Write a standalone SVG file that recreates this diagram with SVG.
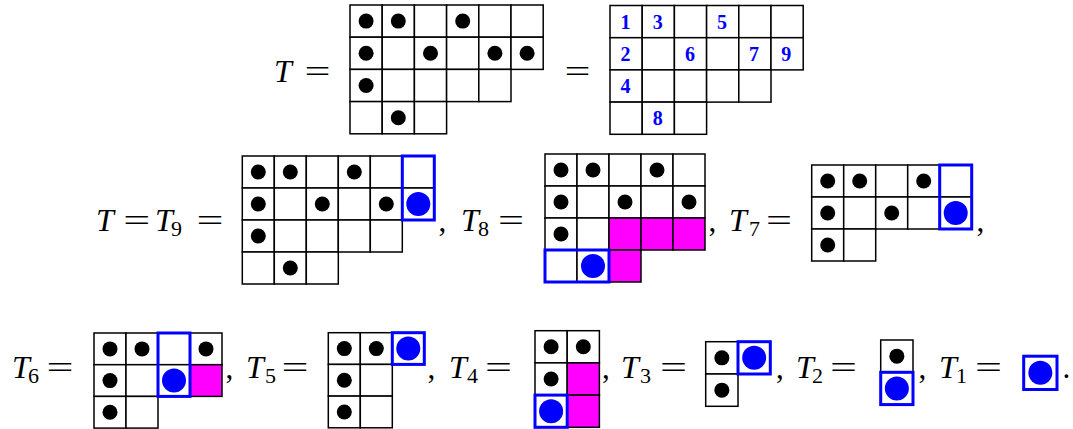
<svg xmlns="http://www.w3.org/2000/svg" width="1073" height="429" viewBox="0 0 1073 429">
<style>
.c{fill:#fff;stroke:#000;stroke-width:1.5}
.m{fill:#f0f;stroke:#000;stroke-width:1.5}
.d{fill:#000}
.bd{fill:#00f}
.bx{fill:none;stroke:#00f;stroke-width:3}
.t{font-family:"Liberation Serif",serif;font-style:italic;font-size:32px;fill:#000}
.s{font-family:"Liberation Serif",serif;font-size:22px;fill:#000}
.e{font-family:"Liberation Serif",serif;font-size:31px;fill:#000}
.n{font-family:"Liberation Serif",serif;font-weight:bold;font-size:20px;fill:#00f;text-anchor:middle}
</style>
<rect width="1073" height="429" fill="#fff"/>
<g id="gridT">
<rect class="c" x="350" y="5" width="32.2" height="32.2"/><rect class="c" x="382.2" y="5" width="32.2" height="32.2"/><rect class="c" x="414.4" y="5" width="32.2" height="32.2"/><rect class="c" x="446.6" y="5" width="32.2" height="32.2"/><rect class="c" x="478.8" y="5" width="32.2" height="32.2"/><rect class="c" x="511" y="5" width="32.2" height="32.2"/>
<rect class="c" x="350" y="37.2" width="32.2" height="32.2"/><rect class="c" x="382.2" y="37.2" width="32.2" height="32.2"/><rect class="c" x="414.4" y="37.2" width="32.2" height="32.2"/><rect class="c" x="446.6" y="37.2" width="32.2" height="32.2"/><rect class="c" x="478.8" y="37.2" width="32.2" height="32.2"/><rect class="c" x="511" y="37.2" width="32.2" height="32.2"/>
<rect class="c" x="350" y="69.4" width="32.2" height="32.2"/><rect class="c" x="382.2" y="69.4" width="32.2" height="32.2"/><rect class="c" x="414.4" y="69.4" width="32.2" height="32.2"/><rect class="c" x="446.6" y="69.4" width="32.2" height="32.2"/><rect class="c" x="478.8" y="69.4" width="32.2" height="32.2"/>
<rect class="c" x="350" y="101.6" width="32.2" height="32.2"/><rect class="c" x="382.2" y="101.6" width="32.2" height="32.2"/><rect class="c" x="414.4" y="101.6" width="32.2" height="32.2"/>
<circle class="d" cx="366.1" cy="21.1" r="7.5"/><circle class="d" cx="398.3" cy="21.1" r="7.5"/><circle class="d" cx="462.7" cy="21.1" r="7.5"/>
<circle class="d" cx="366.1" cy="53.3" r="7.5"/><circle class="d" cx="430.5" cy="53.3" r="7.5"/><circle class="d" cx="494.9" cy="53.3" r="7.5"/><circle class="d" cx="527.1" cy="53.3" r="7.5"/>
<circle class="d" cx="366.1" cy="85.5" r="7.5"/><circle class="d" cx="398.3" cy="117.7" r="7.5"/>
</g>
<g id="gridNum">
<rect class="c" x="610" y="5.5" width="32.2" height="32.2"/><rect class="c" x="642.2" y="5.5" width="32.2" height="32.2"/><rect class="c" x="674.4" y="5.5" width="32.2" height="32.2"/><rect class="c" x="706.6" y="5.5" width="32.2" height="32.2"/><rect class="c" x="738.8" y="5.5" width="32.2" height="32.2"/><rect class="c" x="771" y="5.5" width="32.2" height="32.2"/>
<rect class="c" x="610" y="37.7" width="32.2" height="32.2"/><rect class="c" x="642.2" y="37.7" width="32.2" height="32.2"/><rect class="c" x="674.4" y="37.7" width="32.2" height="32.2"/><rect class="c" x="706.6" y="37.7" width="32.2" height="32.2"/><rect class="c" x="738.8" y="37.7" width="32.2" height="32.2"/><rect class="c" x="771" y="37.7" width="32.2" height="32.2"/>
<rect class="c" x="610" y="69.9" width="32.2" height="32.2"/><rect class="c" x="642.2" y="69.9" width="32.2" height="32.2"/><rect class="c" x="674.4" y="69.9" width="32.2" height="32.2"/><rect class="c" x="706.6" y="69.9" width="32.2" height="32.2"/><rect class="c" x="738.8" y="69.9" width="32.2" height="32.2"/>
<rect class="c" x="610" y="102.1" width="32.2" height="32.2"/><rect class="c" x="642.2" y="102.1" width="32.2" height="32.2"/><rect class="c" x="674.4" y="102.1" width="32.2" height="32.2"/>
<text class="n" x="625.5" y="28.5">1</text><text class="n" x="657.7" y="28.5">3</text><text class="n" x="722" y="28.5">5</text>
<text class="n" x="625.5" y="60.5">2</text><text class="n" x="690" y="60.5">6</text><text class="n" x="754" y="60.5">7</text><text class="n" x="786.3" y="60.5">9</text>
<text class="n" x="625.5" y="92.8">4</text><text class="n" x="657.7" y="125">8</text>
</g>
<g id="T9">
<rect class="c" x="242.3" y="156" width="32" height="32"/><rect class="c" x="274.3" y="156" width="32" height="32"/><rect class="c" x="306.3" y="156" width="32" height="32"/><rect class="c" x="338.3" y="156" width="32" height="32"/><rect class="c" x="370.3" y="156" width="32" height="32"/><rect class="c" x="402.3" y="156" width="32" height="32"/>
<rect class="c" x="242.3" y="188" width="32" height="32"/><rect class="c" x="274.3" y="188" width="32" height="32"/><rect class="c" x="306.3" y="188" width="32" height="32"/><rect class="c" x="338.3" y="188" width="32" height="32"/><rect class="c" x="370.3" y="188" width="32" height="32"/><rect class="c" x="402.3" y="188" width="32" height="32"/>
<rect class="c" x="242.3" y="220" width="32" height="32"/><rect class="c" x="274.3" y="220" width="32" height="32"/><rect class="c" x="306.3" y="220" width="32" height="32"/><rect class="c" x="338.3" y="220" width="32" height="32"/><rect class="c" x="370.3" y="220" width="32" height="32"/>
<rect class="c" x="242.3" y="252" width="32" height="32"/><rect class="c" x="274.3" y="252" width="32" height="32"/><rect class="c" x="306.3" y="252" width="32" height="32"/>
<circle class="d" cx="258.3" cy="172" r="7.5"/><circle class="d" cx="290.3" cy="172" r="7.5"/><circle class="d" cx="354.3" cy="172" r="7.5"/>
<circle class="d" cx="258.3" cy="204" r="7.5"/><circle class="d" cx="322.3" cy="204" r="7.5"/><circle class="d" cx="386.3" cy="204" r="7.5"/>
<circle class="bd" cx="418.3" cy="204" r="12"/>
<circle class="d" cx="258.3" cy="236" r="7.5"/><circle class="d" cx="290.3" cy="268" r="7.5"/>
<rect class="bx" x="402.3" y="156" width="32" height="64"/>
</g>
<g id="T8">
<rect class="c" x="545" y="154" width="32" height="32"/><rect class="c" x="577" y="154" width="32" height="32"/><rect class="c" x="609" y="154" width="32" height="32"/><rect class="c" x="641" y="154" width="32" height="32"/><rect class="c" x="673" y="154" width="32" height="32"/>
<rect class="c" x="545" y="186" width="32" height="32"/><rect class="c" x="577" y="186" width="32" height="32"/><rect class="c" x="609" y="186" width="32" height="32"/><rect class="c" x="641" y="186" width="32" height="32"/><rect class="c" x="673" y="186" width="32" height="32"/>
<rect class="c" x="545" y="218" width="32" height="32"/><rect class="c" x="577" y="218" width="32" height="32"/><rect class="m" x="609" y="218" width="32" height="32"/><rect class="m" x="641" y="218" width="32" height="32"/><rect class="m" x="673" y="218" width="32" height="32"/>
<rect class="c" x="545" y="250" width="32" height="32"/><rect class="c" x="577" y="250" width="32" height="32"/><rect class="m" x="609" y="250" width="32" height="32"/>
<circle class="d" cx="561" cy="170" r="7.5"/><circle class="d" cx="593" cy="170" r="7.5"/><circle class="d" cx="657" cy="170" r="7.5"/>
<circle class="d" cx="561" cy="202" r="7.5"/><circle class="d" cx="625" cy="202" r="7.5"/><circle class="d" cx="689" cy="202" r="7.5"/>
<circle class="d" cx="561" cy="234" r="7.5"/>
<circle class="bd" cx="593" cy="266" r="12"/>
<rect class="bx" x="545" y="250" width="64" height="32"/>
</g>
<g id="T7">
<rect class="c" x="811.7" y="165" width="32" height="32"/><rect class="c" x="843.7" y="165" width="32" height="32"/><rect class="c" x="875.7" y="165" width="32" height="32"/><rect class="c" x="907.7" y="165" width="32" height="32"/><rect class="c" x="939.7" y="165" width="32" height="32"/>
<rect class="c" x="811.7" y="197" width="32" height="32"/><rect class="c" x="843.7" y="197" width="32" height="32"/><rect class="c" x="875.7" y="197" width="32" height="32"/><rect class="c" x="907.7" y="197" width="32" height="32"/><rect class="c" x="939.7" y="197" width="32" height="32"/>
<rect class="c" x="811.7" y="229" width="32" height="32"/><rect class="c" x="843.7" y="229" width="32" height="32"/>
<circle class="d" cx="827.7" cy="181" r="7.5"/><circle class="d" cx="859.7" cy="181" r="7.5"/><circle class="d" cx="923.7" cy="181" r="7.5"/>
<circle class="d" cx="827.7" cy="213" r="7.5"/><circle class="d" cx="891.7" cy="213" r="7.5"/>
<circle class="bd" cx="955.7" cy="213" r="12"/>
<circle class="d" cx="827.7" cy="245" r="7.5"/>
<rect class="bx" x="939.7" y="165" width="32" height="64"/>
</g>
<g id="T6">
<rect class="c" x="94" y="333" width="32" height="31.7"/><rect class="c" x="126" y="333" width="32" height="31.7"/><rect class="c" x="158" y="333" width="32" height="31.7"/><rect class="c" x="190" y="333" width="32" height="31.7"/>
<rect class="c" x="94" y="364.7" width="32" height="31.7"/><rect class="c" x="126" y="364.7" width="32" height="31.7"/><rect class="c" x="158" y="364.7" width="32" height="31.7"/><rect class="m" x="190" y="364.7" width="32" height="31.7"/>
<rect class="c" x="94" y="396.4" width="32" height="31.7"/><rect class="c" x="126" y="396.4" width="32" height="31.7"/>
<circle class="d" cx="110" cy="348.9" r="7.5"/><circle class="d" cx="142" cy="348.9" r="7.5"/><circle class="d" cx="206" cy="348.9" r="7.5"/>
<circle class="d" cx="110" cy="380.6" r="7.5"/>
<circle class="bd" cx="174" cy="380.6" r="12"/>
<circle class="d" cx="110" cy="412.3" r="7.5"/>
<rect class="bx" x="158" y="333" width="32" height="63.4"/>
</g>
<g id="T5">
<rect class="c" x="328.3" y="332.7" width="32" height="31.7"/><rect class="c" x="360.3" y="332.7" width="32" height="31.7"/><rect class="c" x="392.3" y="332.7" width="32" height="31.7"/>
<rect class="c" x="328.3" y="364.4" width="32" height="31.7"/><rect class="c" x="360.3" y="364.4" width="32" height="31.7"/>
<rect class="c" x="328.3" y="396.1" width="32" height="31.7"/><rect class="c" x="360.3" y="396.1" width="32" height="31.7"/>
<circle class="d" cx="344.3" cy="348.6" r="7.5"/><circle class="d" cx="376.3" cy="348.6" r="7.5"/>
<circle class="bd" cx="408.3" cy="348.6" r="12"/>
<circle class="d" cx="344.3" cy="380.3" r="7.5"/><circle class="d" cx="344.3" cy="412" r="7.5"/>
<rect class="bx" x="392.3" y="332.7" width="32" height="31.7"/>
</g>
<g id="T4">
<rect class="c" x="535" y="330.7" width="32.2" height="32.2"/><rect class="c" x="567.2" y="330.7" width="32.2" height="32.2"/>
<rect class="c" x="535" y="362.9" width="32.2" height="32.2"/><rect class="m" x="567.2" y="362.9" width="32.2" height="32.2"/>
<rect class="c" x="535" y="395.1" width="32.2" height="32.2"/><rect class="m" x="567.2" y="395.1" width="32.2" height="32.2"/>
<circle class="d" cx="551.1" cy="346.8" r="7.5"/><circle class="d" cx="583.3" cy="346.8" r="7.5"/>
<circle class="d" cx="551.1" cy="379" r="7.5"/>
<circle class="bd" cx="551.1" cy="411.2" r="12"/>
<rect class="bx" x="535" y="395.1" width="32.2" height="32.2"/>
</g>
<g id="T3">
<rect class="c" x="705.7" y="341.7" width="32.3" height="32.3"/><rect class="c" x="738" y="341.7" width="32.3" height="32.3"/>
<rect class="c" x="705.7" y="374" width="32.3" height="32.3"/>
<circle class="d" cx="721.85" cy="357.85" r="7.5"/>
<circle class="bd" cx="754.15" cy="357.85" r="12"/>
<circle class="d" cx="721.85" cy="390.15" r="7.5"/>
<rect class="bx" x="738" y="341.7" width="32.3" height="32.3"/>
</g>
<g id="T2">
<rect class="c" x="880.7" y="340" width="32.3" height="32.3"/>
<rect class="c" x="880.7" y="372.3" width="32.3" height="32.3"/>
<circle class="d" cx="896.85" cy="356.15" r="7.5"/>
<circle class="bd" cx="896.85" cy="388.45" r="12"/>
<rect class="bx" x="880.7" y="372.3" width="32.3" height="32.3"/>
</g>
<g id="T1">
<rect class="c" x="1023.7" y="356.2" width="33.3" height="33.3"/>
<circle class="bd" cx="1040.35" cy="372.85" r="12"/>
<rect class="bx" x="1023.7" y="356.2" width="33.3" height="33.3"/>
</g>
<g id="connectors"/>
<g id="labels">
<text class="t" x="274" y="82">T</text><text class="e" x="317.5" y="82" text-anchor="middle" textLength="26" lengthAdjust="spacingAndGlyphs">=</text>
<text class="e" x="577.5" y="82" text-anchor="middle" textLength="26" lengthAdjust="spacingAndGlyphs">=</text>
<text class="t" x="96" y="231">T</text><text class="e" x="136.7" y="231" text-anchor="middle" textLength="27" lengthAdjust="spacingAndGlyphs">=</text>
<text class="t" x="155" y="231">T</text><text class="s" x="171" y="236">9</text><text class="e" x="210" y="231" text-anchor="middle" textLength="27" lengthAdjust="spacingAndGlyphs">=</text>
<text class="e" x="438.5" y="231">,</text>
<text class="t" x="461" y="231">T</text><text class="s" x="478" y="236">8</text><text class="e" x="511" y="231" text-anchor="middle" textLength="26" lengthAdjust="spacingAndGlyphs">=</text>
<text class="e" x="708.5" y="231">,</text>
<text class="t" x="729" y="231">T</text><text class="s" x="749" y="236">7</text><text class="e" x="779" y="231" text-anchor="middle" textLength="26" lengthAdjust="spacingAndGlyphs">=</text>
<text class="e" x="976.5" y="231">,</text>
<text class="t" x="12" y="378">T</text><text class="s" x="28" y="383">6</text><text class="e" x="60" y="378" text-anchor="middle" textLength="27" lengthAdjust="spacingAndGlyphs">=</text>
<text class="e" x="225.5" y="378">,</text>
<text class="t" x="246" y="378">T</text><text class="s" x="265" y="383">5</text><text class="e" x="295" y="378" text-anchor="middle" textLength="27" lengthAdjust="spacingAndGlyphs">=</text>
<text class="e" x="427.5" y="378">,</text>
<text class="t" x="449" y="378">T</text><text class="s" x="467" y="383">4</text><text class="e" x="498.5" y="378" text-anchor="middle" textLength="27" lengthAdjust="spacingAndGlyphs">=</text>
<text class="e" x="602" y="378">,</text>
<text class="t" x="621" y="378">T</text><text class="s" x="640" y="383">3</text><text class="e" x="673.5" y="378" text-anchor="middle" textLength="27" lengthAdjust="spacingAndGlyphs">=</text>
<text class="e" x="776" y="378">,</text>
<text class="t" x="796" y="378">T</text><text class="s" x="812" y="383">2</text><text class="e" x="843.5" y="378" text-anchor="middle" textLength="27" lengthAdjust="spacingAndGlyphs">=</text>
<text class="e" x="918.5" y="378">,</text>
<text class="t" x="939" y="378">T</text><text class="s" x="956" y="383">1</text><text class="e" x="988.5" y="378" text-anchor="middle" textLength="27" lengthAdjust="spacingAndGlyphs">=</text>
<text class="e" x="1062.5" y="378">.</text>
</g>
</svg>
